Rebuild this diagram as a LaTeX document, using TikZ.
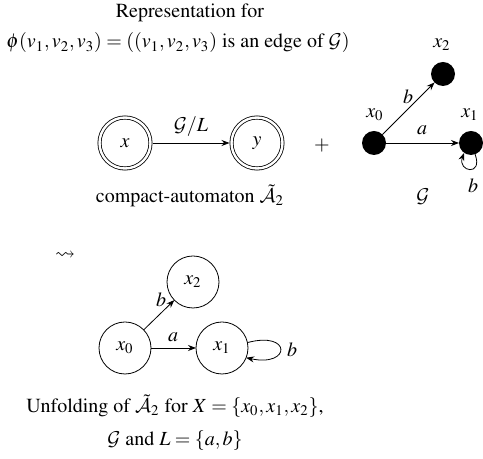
\documentclass[tikz,border=0pt]{standalone}
\usepackage[T1]{fontenc}
\usepackage{mathptmx}
\usepackage{amssymb}
\DeclareMathAlphabet{\mathcal}{OMS}{cmsy}{m}{n}
\usetikzlibrary{arrows.meta}
\begin{document}
\begin{tikzpicture}[x=0.5pt,y=0.5pt,
  >={Stealth[length=4pt,width=3pt]},
  every node/.style={inner sep=0pt, outer sep=0pt},
  dot/.style={circle,fill=black,minimum size=12pt},
  dstate/.style={circle,draw,line width=0.4pt,double,double distance=1.2pt,minimum size=25.5pt},
  state/.style={circle,draw,line width=0.4pt,minimum size=26pt},
  conn/.style={->,line width=0.4pt}]
\useasboundingbox (0,0) rectangle (483,-459);

% titles
\node (title) at (190,-13) {Representation for};
\node (phi) at (178,-43) {$\phi(v_1,v_2,v_3)=((v_1,v_2,v_3)$ is an edge of $\mathcal{G})$};

% compact automaton
\node[dstate] (x) at (125,-143) {$x$};
\node[dstate] (y) at (257,-143) {$y$};
\draw[conn,shorten <=1pt,shorten >=1pt] (x) -- node[above=3pt] (gl) {$\mathcal{G}/L$} (y);
\node (plus) at (322,-146) {$+$};
\node (cap1) at (190,-196) {compact-automaton $\tilde{\mathcal{A}}_2$};

% graph G
\node[dot] (g2) at (443,-74) {};
\node[dot] (g0) at (374,-143) {};
\node[dot] (g1) at (471,-143) {};
\node (lg2) at (442,-45) {$x_2$};
\node (lg0) at (375,-115) {$x_0$};
\node (lg1) at (470,-115) {$x_1$};
\draw[conn] (g0) -- (g2);
\node (lb1) at (408,-97) {$b$};
\draw[conn] (g0) -- (g1);
\node (la1) at (422,-130) {$a$};
\draw[conn] (g1.-70) .. controls +(-70:12pt) and +(-110:10pt) .. (g1.-125);
\node (lb2) at (473,-186) {$b$};
\node (lG) at (423,-197) {$\mathcal{G}$};

% leads to
\node (sq) at (65,-256) {$\rightsquigarrow$};

% unfolding
\node[state] (u2) at (193,-282) {$x_2$};
\node[state] (u0) at (125,-348) {$x_0$};
\node[state] (u1) at (222,-348) {$x_1$};
\draw[conn] (u0) -- (u2);
\node (lb3) at (161,-300) {$b$};
\draw[conn] (u0) -- (u1);
\node (la3) at (173,-337) {$a$};
\draw[conn] (u1.12) .. controls +(15:23pt) and +(-12:23pt) .. (u1.-22);
\node (lb4) at (292,-350) {$b$};

\node (cap2) at (175,-406) {Unfolding of $\tilde{\mathcal{A}}_2$ for $X=\{x_0,x_1,x_2\}$,};
\node (cap3) at (175,-441) {$\mathcal{G}$ and $L=\{a,b\}$};
\end{tikzpicture}
\end{document}
